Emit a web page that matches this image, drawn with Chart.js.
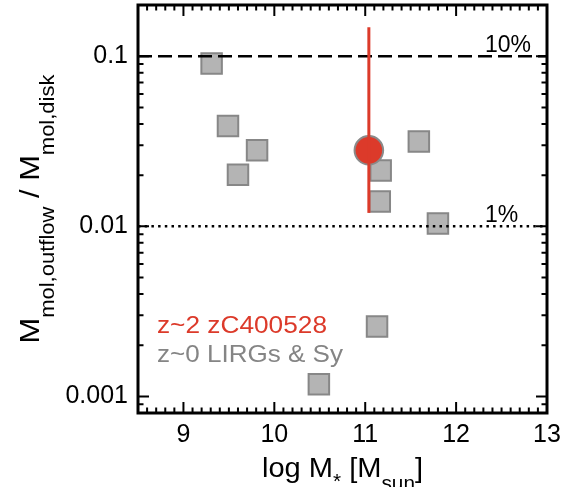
<!DOCTYPE html>
<html>
<head>
<meta charset="utf-8">
<script src="https://cdn.jsdelivr.net/npm/chart.js@4"></script>
<style>
  html, body { margin: 0; padding: 0; background: #fff; }
  canvas { display: block; }
</style>
</head>
<body>
<canvas id="outflowChart" width="579" height="487"></canvas>
<script>
// z~0 LIRGs & Seyferts (log stellar mass, outflow / disk molecular mass)
const localMass = [9.31, 9.49, 9.60, 9.81, 10.49, 11.13, 11.16, 11.17, 11.59, 11.80];
const localRatio = [0.0906, 0.0389, 0.0201, 0.0280, 0.00118, 0.00258, 0.0140, 0.0213, 0.0315, 0.0104];

// z~2 zC400528
const zcMass = [11.04];
const zcRatio = [0.0280];
const zcRatioLow = [0.0120];
const zcRatioHigh = [0.148];

// Reference levels
const refLevels = [0.1, 0.01];
const refLabels = ['10%', '1%'];

// Axes
const xRange = [8.5, 13];
const yRange = [0.0008, 0.2];
const xTicks = [9, 10, 11, 12, 13];
const yTicks = [0.001, 0.01, 0.1];
const yTickLabels = ['0.001', '0.01', '0.1'];

const FONT = "'Liberation Sans', Arial, Helvetica, sans-serif";
const RED = '#dc3a2a';
const GREY_TEXT = '#858585';
const PLOT_TOP = 5;

// Draw text made of pieces (text, size, baseline shift), optionally stretched to a width
const richText = (ctx, parts, x, y, align, targetWidth) => {
    let total = 0;
    const widths = parts.map(([t, size]) => {
        ctx.font = `${size}px ${FONT}`;
        const w = ctx.measureText(t).width;
        total += w;
        return w;
    });
    const s = targetWidth ? targetWidth / total : 1;
    let cx = align === 'center' ? x - total * s / 2 : x;
    parts.forEach(([t, size, dy], i) => {
        ctx.save();
        ctx.font = `${size}px ${FONT}`;
        ctx.textBaseline = 'alphabetic';
        ctx.textAlign = 'left';
        ctx.translate(cx, y + (dy || 0));
        ctx.scale(s, 1);
        ctx.fillText(t, 0, 0);
        ctx.restore();
        cx += widths[i] * s;
    });
};

// Frame, inward ticks and the annotations
const decorPlugin = {
    id: 'decor',
    afterLayout(chart) {
        // keep the plot box top where the original has it
        const y = chart.scales.y;
        const a = chart.chartArea;
        a.top = PLOT_TOP;
        a.height = a.bottom - a.top;
        y.top = PLOT_TOP;
        y.height = y.bottom - y.top;
        y.configure();
    },
    afterDraw(chart) {
        const { ctx, chartArea: a, scales: { x, y } } = chart;
        ctx.save();
        ctx.strokeStyle = '#000';
        ctx.lineWidth = 2;
        ctx.beginPath();
        for (let i = 86; i <= 129; i++) {
            const px = x.getPixelForValue(i / 10);
            const len = i % 10 === 0 ? 11 : 5.5;
            ctx.moveTo(px, a.bottom); ctx.lineTo(px, a.bottom - len);
            ctx.moveTo(px, a.top); ctx.lineTo(px, a.top + len);
        }
        for (let e = -4; e <= 0; e++) {
            for (let m = 1; m <= 9; m++) {
                const v = m * Math.pow(10, e);
                if (v <= yRange[0] || v >= yRange[1]) continue;
                const py = y.getPixelForValue(v);
                const len = m === 1 ? 11 : 5.5;
                ctx.moveTo(a.left, py); ctx.lineTo(a.left + len, py);
                ctx.moveTo(a.right, py); ctx.lineTo(a.right - len, py);
            }
        }
        ctx.stroke();

        ctx.lineWidth = 3;
        ctx.strokeRect(a.left, a.top, a.right - a.left, a.bottom - a.top);

        // reference level labels
        ctx.fillStyle = '#000';
        refLevels.forEach((v, i) => {
            richText(ctx, [[refLabels[i], 23, 0]], 485, y.getPixelForValue(v) - 4.5, 'left');
        });

        // legend text
        ctx.fillStyle = RED;
        richText(ctx, [['z~2 zC400528', 24, 0]], 157, 333, 'left', 170);
        ctx.fillStyle = GREY_TEXT;
        richText(ctx, [['z~0 LIRGs & Sy', 24, 0]], 157, 361.5, 'left', 186);

        // axis titles
        ctx.fillStyle = '#000';
        richText(ctx, [['log M', 28, 0], ['*', 20, 11], [' [M', 28, 0], ['sun', 20, 13], [']', 28, 0]],
            (a.left + a.right) / 2, 476.7, 'center', 161);

        ctx.save();
        ctx.translate(39.3, (a.top + a.bottom) / 2);
        ctx.rotate(-Math.PI / 2);
        richText(ctx, [['M', 28, 0], ['mol,outflow', 20, 15], [' / ', 28, 0], ['M', 28, 0], ['mol,disk', 20, 15]],
            0, 0, 'center', 269);
        ctx.restore();
        ctx.restore();
    }
};

const localPoints = localMass.map((m, i) => ({ x: m, y: localRatio[i] }));
const zcPoints = zcMass.map((m, i) => ({ x: m, y: zcRatio[i] }));
const zcErrBar = [{ x: zcMass[0], y: zcRatioLow[0] }, { x: zcMass[0], y: zcRatioHigh[0] }];
const refLine = v => [{ x: xRange[0], y: v }, { x: xRange[1], y: v }];

const ctx = document.getElementById('outflowChart').getContext('2d');
new Chart(ctx, {
    type: 'scatter',
    data: {
        datasets: [
            {
                label: '10%', data: refLine(refLevels[0]), showLine: true, pointRadius: 0,
                borderColor: '#000', borderWidth: 2.5, borderDash: [14, 6], order: 1
            },
            {
                label: '1%', data: refLine(refLevels[1]), showLine: true, pointRadius: 0,
                borderColor: '#000', borderWidth: 2.5, borderDash: [2.5, 4.2], order: 1
            },
            {
                label: 'z~2 error', data: zcErrBar, showLine: true, pointRadius: 0,
                borderColor: RED, borderWidth: 3, order: 0
            },
            {
                label: 'z~2 zC400528', data: zcPoints, pointStyle: 'circle', pointRadius: 14.3,
                backgroundColor: RED, borderColor: '#8a8a8a', borderWidth: 2, order: 2
            },
            {
                label: 'z~0 LIRGs & Sy', data: localPoints, pointStyle: 'rect', pointRadius: 14.5,
                backgroundColor: '#b4b4b4', borderColor: '#878787', borderWidth: 2, order: 3
            }
        ]
    },
    options: {
        responsive: false,
        animation: false,
        events: [],
        layout: { padding: { left: 0, right: 32, top: PLOT_TOP, bottom: 0 } },
        plugins: { legend: { display: false }, tooltip: { enabled: false } },
        scales: {
            x: {
                type: 'linear',
                min: xRange[0],
                max: xRange[1],
                grid: { display: false, drawTicks: false },
                border: { display: false },
                afterBuildTicks: s => { s.ticks = xTicks.map(v => ({ value: v })); },
                afterFit: s => { s.height = 74; },
                ticks: {
                    padding: 7,
                    color: '#000',
                    font: { family: FONT, size: 25 },
                    callback: v => String(v)
                }
            },
            y: {
                type: 'logarithmic',
                min: yRange[0],
                max: yRange[1],
                grid: { display: false, drawTicks: false },
                border: { display: false },
                afterBuildTicks: s => { s.ticks = yTicks.map(v => ({ value: v })); },
                afterFit: s => { s.width = 138; },
                ticks: {
                    padding: 10,
                    color: '#000',
                    font: { family: FONT, size: 25 },
                    callback: (v) => {
                        const i = yTicks.findIndex(t => Math.abs(t - v) / t < 1e-6);
                        return i >= 0 ? yTickLabels[i] : '';
                    }
                }
            }
        }
    },
    plugins: [decorPlugin]
});
</script>
</body>
</html>
